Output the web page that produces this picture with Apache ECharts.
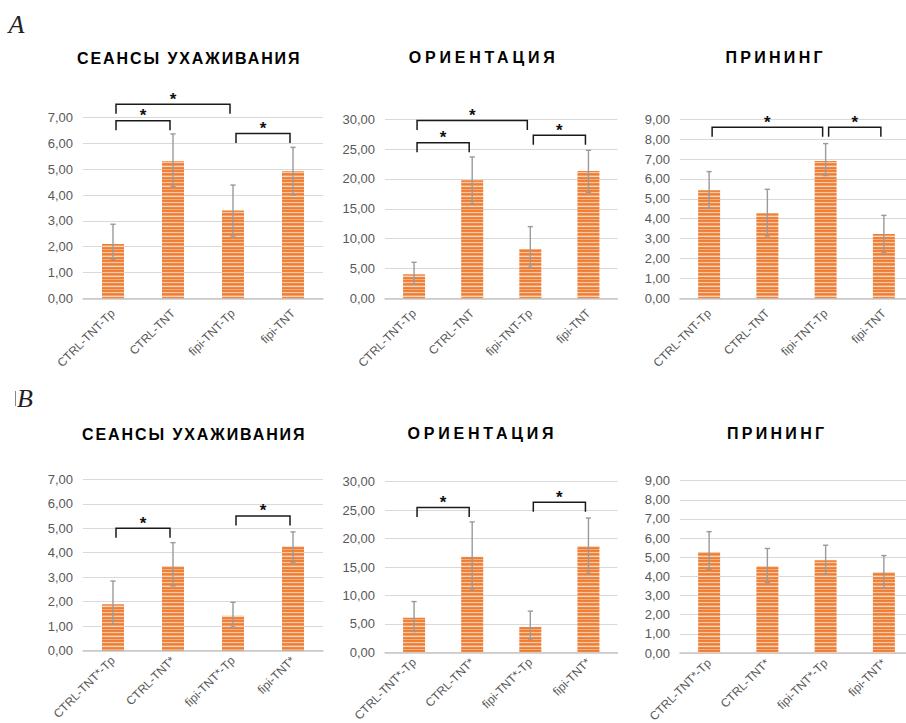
<!DOCTYPE html>
<html><head><meta charset="utf-8">
<script src="https://cdn.jsdelivr.net/npm/echarts@6/dist/echarts.min.js"></script>
<style>html,body{margin:0;padding:0;background:#fff}#c{width:906px;height:723px}</style>
</head><body><div id="c"></div>
<script>
// ---- categories ----
const categoriesA = ['CTRL-TNT-Tp', 'CTRL-TNT', 'fipi-TNT-Tp', 'fipi-TNT'];
const categoriesB = ['CTRL-TNT*-Tp', 'CTRL-TNT*', 'fipi-TNT*-Tp', 'fipi-TNT*'];
const panelTitles = ['СЕАНСЫ УХАЖИВАНИЯ', 'ОРИЕНТАЦИЯ', 'ПРИНИНГ'];
const panelLetters = ['A', 'B'];

// ---- axis ranges ----
const yMaxes = [7, 30, 9];
const yIntervals = [1, 5, 1];

// ---- A: courtship sessions ----
const aCourtMean = [2.10, 5.31, 3.40, 4.92];
const aCourtLow  = [1.51, 4.33, 2.41, 4.00];
const aCourtHigh = [2.87, 6.37, 4.39, 5.85];
const aCourtSig  = [[0, 1, 6.88], [0, 2, 7.52], [2, 3, 6.39]];
// ---- A: orientation ----
const aOrientMean = [4.02, 19.78, 8.27, 21.34];
const aOrientLow  = [2.40, 15.87, 5.20, 17.71];
const aOrientHigh = [6.03, 23.69, 12.01, 24.80];
const aOrientSig  = [[0, 1, 26.09], [0, 2, 29.78], [2, 3, 27.32]];
// ---- A: preening ----
const aPreenMean = [5.43, 4.27, 6.90, 3.23];
const aPreenLow  = [4.52, 3.13, 6.17, 2.30];
const aPreenHigh = [6.37, 5.48, 7.78, 4.17];
const aPreenSig  = [[0, 2, 8.60], [2, 3, 8.60]];
// ---- B: courtship sessions ----
const bCourtMean = [1.89, 3.45, 1.42, 4.26];
const bCourtLow  = [1.08, 2.64, 0.96, 3.61];
const bCourtHigh = [2.84, 4.41, 1.97, 4.85];
const bCourtSig  = [[0, 1, 5.00], [2, 3, 5.50]];
// ---- B: orientation ----
const bOrientMean = [6.08, 16.79, 4.46, 18.70];
const bOrientLow  = [3.65, 10.94, 2.32, 13.90];
const bOrientHigh = [8.92, 22.93, 7.24, 23.62];
const bOrientSig  = [[0, 1, 25.48], [2, 3, 26.40]];
// ---- B: preening ----
const bPreenMean = [5.28, 4.55, 4.85, 4.22];
const bPreenLow  = [4.36, 3.68, 4.13, 3.39];
const bPreenHigh = [6.34, 5.46, 5.63, 5.09];
const bPreenSig  = [];

// ---- layout / style ----
const panels = [
  {cats: categoriesA, mean: aCourtMean, lo: aCourtLow, hi: aCourtHigh, sig: aCourtSig, k: 0},
  {cats: categoriesA, mean: aOrientMean, lo: aOrientLow, hi: aOrientHigh, sig: aOrientSig, k: 1},
  {cats: categoriesA, mean: aPreenMean, lo: aPreenLow, hi: aPreenHigh, sig: aPreenSig, k: 2},
  {cats: categoriesB, mean: bCourtMean, lo: bCourtLow, hi: bCourtHigh, sig: bCourtSig, k: 0},
  {cats: categoriesB, mean: bOrientMean, lo: bOrientLow, hi: bOrientHigh, sig: bOrientSig, k: 1},
  {cats: categoriesB, mean: bPreenMean, lo: bPreenLow, hi: bPreenHigh, sig: bPreenSig, k: 2}
];
const gridBoxes = [
  {left: 83, top: 117.7, width: 240, height: 180.6},
  {left: 385, top: 119.3, width: 232.5, height: 179},
  {left: 680, top: 119.3, width: 233, height: 179},
  {left: 83, top: 479.3, width: 240, height: 171.2},
  {left: 385, top: 481.7, width: 232.5, height: 170.6},
  {left: 680, top: 480.7, width: 233, height: 172.3}
];
const labelMargins = [13, 13, 13, 8, 8, 8];
const titlePos = [[188.3, 58.3], [481.7, 57], [774, 57], [193.3, 434], [480.5, 433.7], [775.5, 433.7]];
const titleSpacing = {'СЕАНСЫ УХАЖИВАНИЯ': 1.9, 'ОРИЕНТАЦИЯ': 3.8, 'ПРИНИНГ': 3.3};
const stripeColors = ['#ED7D31', '#EE8440', '#F8C8A8', '#EF8B4A', '#ED7D31', '#F2A06A', '#FAD6BE', '#EE8743', '#ED7D31', '#F4AE80'];

const pc = document.createElement('canvas');
pc.width = 4; pc.height = stripeColors.length;
const pg = pc.getContext('2d');
stripeColors.forEach((col, i) => { pg.fillStyle = col; pg.fillRect(0, i, 4, 1); });
const barPattern = {image: pc, repeat: 'repeat', imageWidth: 4, imageHeight: stripeColors.length};

const fmt = v => v.toFixed(2).replace('.', ',');
const grid = [], xAxis = [], yAxis = [], series = [], graphic = [];

panels.forEach((p, i) => {
  grid.push(Object.assign({containLabel: false, outerBoundsMode: 'none'}, gridBoxes[i]));
  xAxis.push({
    type: 'category', gridIndex: i, data: p.cats,
    axisLine: {lineStyle: {color: '#c6c6c6', width: 1.5}},
    axisTick: {show: false},
    axisLabel: {rotate: 45, interval: 0, margin: labelMargins[i], fontSize: 12, color: '#595959', fontFamily: 'Liberation Sans'}
  });
  yAxis.push({
    type: 'value', gridIndex: i, min: 0, max: yMaxes[p.k], interval: yIntervals[p.k],
    axisLine: {show: false}, axisTick: {show: false},
    splitLine: {lineStyle: {color: '#d9d9d9', width: 1.2}},
    axisLabel: {formatter: fmt, margin: 10, fontSize: 13, color: '#595959', fontFamily: 'Liberation Sans'}
  });
  series.push({
    type: 'bar', xAxisIndex: i, yAxisIndex: i, data: p.mean, barWidth: 22,
    itemStyle: {color: barPattern}, silent: true, animation: false
  });
  series.push({
    type: 'custom', xAxisIndex: i, yAxisIndex: i, silent: true, animation: false, z: 3,
    data: p.mean.map((m, j) => [j, p.lo[j], p.hi[j]]),
    encode: {x: 0, y: [1, 2]},
    renderItem: (params, api) => {
      const b = api.coord([api.value(0), api.value(1)]);
      const t = api.coord([api.value(0), api.value(2)]);
      const st = {stroke: '#9a9a9a', lineWidth: 1.4};
      return {type: 'group', children: [
        {type: 'line', shape: {x1: b[0], y1: b[1], x2: t[0], y2: t[1]}, style: st},
        {type: 'line', shape: {x1: t[0] - 2.6, y1: t[1], x2: t[0] + 2.6, y2: t[1]}, style: st},
        {type: 'line', shape: {x1: b[0] - 2.6, y1: b[1], x2: b[0] + 2.6, y2: b[1]}, style: st}
      ]};
    }
  });
  if (p.sig.length) {
    series.push({
      type: 'custom', xAxisIndex: i, yAxisIndex: i, silent: true, animation: false, z: 4, clip: false,
      data: p.sig,
      encode: {x: [0, 1], y: 2},
      renderItem: (params, api) => {
        const a = api.coord([api.value(0), api.value(2)]);
        const c = api.coord([api.value(1), api.value(2)]);
        const tick = 9.5, inset = 3;
        const xa = a[0] + inset, xc = c[0] - inset;
        return {type: 'group', children: [
          {type: 'polyline', shape: {points: [[xa, a[1] + tick], [xa, a[1]], [xc, c[1]], [xc, c[1] + tick]]},
           style: {stroke: '#1a1a1a', lineWidth: 1.5, fill: 'none'}},
          {type: 'text', style: {text: '*', x: (xa + xc) / 2, y: a[1] - 5,
            align: 'center', verticalAlign: 'middle', textAlign: 'center', textVerticalAlign: 'middle',
            font: 'bold 17px "Liberation Sans"', fill: '#111'}}
        ]};
      }
    });
  }
  const tt = panelTitles[p.k];
  const ls = titleSpacing[tt];
  graphic.push({
    type: 'text', x: titlePos[i][0] + ls / 2, y: titlePos[i][1], silent: true,
    style: {text: tt, font: 'bold 16px "Liberation Sans"', fill: '#000',
      align: 'center', verticalAlign: 'middle', textAlign: 'center', textVerticalAlign: 'middle'}
  });
});

graphic.push({type: 'text', x: 16.5, y: 24, silent: true,
  style: {text: panelLetters[0], font: 'italic 26px "Liberation Serif"', fill: '#222',
    align: 'center', verticalAlign: 'middle', textAlign: 'center', textVerticalAlign: 'middle'}});
graphic.push({type: 'text', x: 25, y: 398.5, silent: true,
  style: {text: panelLetters[1], font: 'italic 26px "Liberation Serif"', fill: '#222',
    align: 'center', verticalAlign: 'middle', textAlign: 'center', textVerticalAlign: 'middle'}});
graphic.push({type: 'line', silent: true, shape: {x1: 15.5, y1: 391, x2: 15.5, y2: 406},
  style: {stroke: '#888', lineWidth: 1}});

const chart = echarts.init(document.getElementById('c'), null, {renderer: 'svg'});
chart.setOption({animation: false, backgroundColor: '#fff', grid, xAxis, yAxis, series, graphic});

function applySpacing() {
  document.querySelectorAll('#c svg text').forEach(t => {
    const s = titleSpacing[t.textContent];
    if (s !== undefined) t.setAttribute('letter-spacing', s + 'px');
  });
}
chart.on('finished', applySpacing);
applySpacing();
setTimeout(applySpacing, 30);
</script></body></html>
